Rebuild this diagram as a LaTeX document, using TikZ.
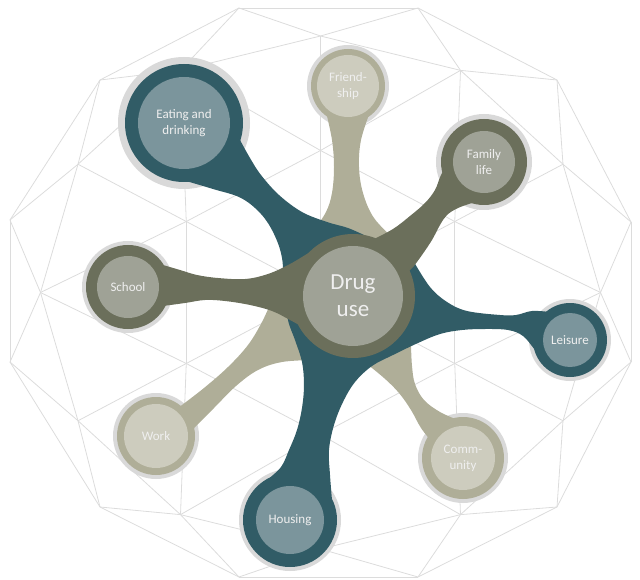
\documentclass[tikz,border=0pt]{standalone}
\usepackage{fontspec}
\setmainfont{Carlito}
\usetikzlibrary{calc}

\definecolor{netgray}{HTML}{DCDCDC}
\definecolor{halogray}{HTML}{D9D9D9}
\definecolor{tealD}{HTML}{315C66}
\definecolor{tealL}{HTML}{7B959C}
\definecolor{oliveD}{HTML}{6B6F5B}
\definecolor{oliveL}{HTML}{9FA296}
\definecolor{beigeD}{HTML}{AFAE98}
\definecolor{beigeL}{HTML}{CDCCBE}
\definecolor{labeltext}{HTML}{EFEFEF}

\tikzset{
  net/.style={draw=netgray, line width=0.8pt},
  armcurve/.style={smooth, tension=0.6},
  hub/.style={circle, inner sep=0pt, outer sep=0pt, align=center,
    text=labeltext, fill=#1},
  small/.style={font=\fontsize{13}{16}\selectfont},
  large/.style={font=\fontsize{23}{27}\selectfont},
}

\begin{document}
\begin{tikzpicture}[x=1pt, y=-1pt]
\useasboundingbox (0,0) rectangle (640,580);

% ---------- geodesic net in the background ----------
\foreach \n/\x/\y in {0/631/222, 1/557/80, 2/418/8, 3/239/8, 4/100/80, 5/10/220,
                      6/10/362, 7/100/507, 8/239/577, 9/418/577, 10/557/507, 11/631/362}
  \coordinate (o\n) at (\x,\y);
\foreach \n in {0,...,11}
  \coordinate (m\n) at ({320.5+280*cos(30*\n)},{292.5-256.5*sin(30*\n)});
\foreach \n in {0,...,5}
  \coordinate (i\n) at ({320.5+155*cos(60*\n+30)},{292.5-142*sin(60*\n+30)});
\coordinate (p) at (320.5,292.5);

\foreach \k in {0,...,11}{
  \pgfmathtruncatemacro\kn{mod(\k+1,12)}
  \draw[net] (o\k) -- (o\kn);
  \draw[net] (o\k) -- (m\k);
  \draw[net] (o\k) -- (m\kn);
  \draw[net] (m\k) -- (m\kn);
}
\foreach \j in {0,...,5}{
  \pgfmathtruncatemacro\ma{2*\j}
  \pgfmathtruncatemacro\mb{2*\j+1}
  \pgfmathtruncatemacro\mc{mod(2*\j+2,12)}
  \pgfmathtruncatemacro\jn{mod(\j+1,6)}
  \draw[net] (i\j) -- (m\ma);
  \draw[net] (i\j) -- (m\mb);
  \draw[net] (i\j) -- (m\mc);
  \draw[net] (i\j) -- (i\jn);
  \draw[net] (i\j) -- (p);
}

% ---------- centres ----------
\coordinate (ctr)  at (353,296);
\coordinate (eatC) at (184,123);
\coordinate (friC) at (348,86);
\coordinate (famC) at (484,162);
\coordinate (schC) at (128,287);
\coordinate (leiC) at (570,340);
\coordinate (comC) at (463,458);
\coordinate (houC) at (290,520);
\coordinate (worC) at (156,436);

% ---------- grey halos ----------
\foreach \c/\r in {eatC/66, friC/41, famC/48, schC/46, leiC/41, comC/45, houC/51, worC/43}
  \fill[halogray] (\c) circle (\r);

% ---------- beige arms ----------
\fill[beigeD] plot[armcurve] coordinates {(326,112) (332,140) (334,167) (332,193) (326,212) (314,230)}
  -- (ctr) -- plot[armcurve] coordinates {(395,240) (374,218) (363,193) (359,167) (361,140) (370,112)} -- cycle;
\fill[beigeD] plot[armcurve] coordinates {(178,408) (204,388) (228,367) (248,345) (262,322) (272,300)}
  -- (ctr) -- plot[armcurve] coordinates {(312,360) (282,362) (258,370) (236,386) (214,408) (190,432)} -- cycle;
\fill[beigeD] plot[armcurve] coordinates {(362,360) (384,378) (399,393) (411,410) (421,428) (432,442)}
  -- (comC) -- plot[armcurve] coordinates {(458,420) (440,412) (424,400) (415,384) (412,366) (411,345)}
  -- (ctr) -- cycle;
\foreach \c/\r in {friC/37, comC/41, worC/39}
  \fill[beigeD] (\c) circle (\r);

% ---------- teal body ----------
\fill[tealD] plot[armcurve] coordinates {(240,140) (250,158) (261,175) (279,195) (302,212) (327,222) (348,228) (366,236)}
  -- (395,248)
  -- plot[armcurve] coordinates {(414,262) (430,287) (447,302) (467,311) (500,315) (516,315) (532,311) (550,312)}
  -- (leiC)
  -- plot[armcurve] coordinates {(545,362) (535,350) (523,336) (508,330) (485,329) (462,330) (440,334) (418,343)
       (393,355) (372,366) (355,382) (343,402) (334,425) (329,450) (330,475) (332,500)}
  -- (houC)
  -- plot[armcurve] coordinates {(267,480) (281,467) (289,450) (297,430) (302,408) (304,385) (302,362)
       (295,340) (288,320) (284,290) (282,258) (274,234) (261,214) (241,198) (213,189) (186,181)}
  -- cycle;
\foreach \c/\r in {eatC/59, leiC/37, houC/47}
  \fill[tealD] (\c) circle (\r);

% ---------- olive arms and hub ring ----------
\fill[oliveD] plot[armcurve] coordinates {(163,265) (180,270) (197,275) (218,278) (245,279) (268,274) (290,264) (312,251) (330,242)}
  -- (ctr) -- plot[armcurve] coordinates {(308,330) (290,320) (272,311) (250,305) (225,301) (205,300) (185,303) (163,306)} -- cycle;
\fill[oliveD] plot[armcurve] coordinates {(372,240) (393,229) (410,216) (425,203) (435,190) (441,175) (450,160)}
  -- (famC) -- plot[armcurve] coordinates {(472,203) (458,208) (447,215) (440,225) (432,240) (422,255) (414,266)}
  -- (395,285) -- (ctr) -- cycle;
\fill[oliveD] (ctr) circle (62);
\foreach \c/\r in {famC/43, schC/42}
  \fill[oliveD] (\c) circle (\r);

% ---------- labelled inner discs ----------
\node[hub=oliveL, minimum size=100pt, large] (drug) at (ctr) {Drug\\use};
\node[hub=tealL,  minimum size=92pt, small] (eat) at (eatC) {Eating and\\drinking};
\node[hub=beigeL, minimum size=62pt, small] (fri) at (friC) {Friend-\\ship};
\node[hub=oliveL, minimum size=62pt, small] (fam) at (famC) {Family\\life};
\node[hub=oliveL, minimum size=62pt, small] (sch) at (schC) {School};
\node[hub=tealL,  minimum size=54pt, small] (lei) at (leiC) {Leisure};
\node[hub=beigeL, minimum size=64pt, small] (com) at (comC) {Comm-\\unity};
\node[hub=tealL,  minimum size=68pt, small] (hou) at (houC) {Housing};
\node[hub=beigeL, minimum size=64pt, small] (wor) at (worC) {Work};

\end{tikzpicture}
\end{document}
